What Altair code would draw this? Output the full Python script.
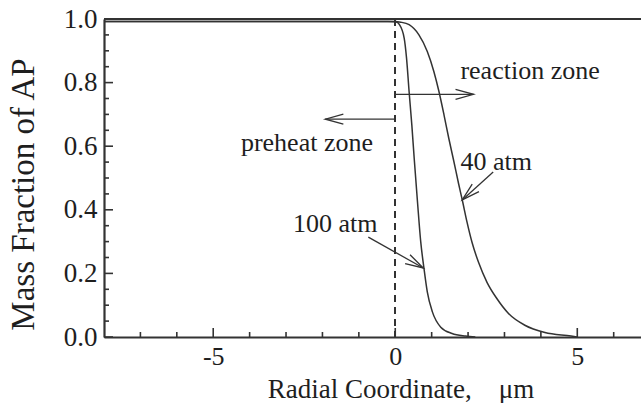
import math
import altair as alt
import pandas as pd

# Axis ranges and tick positions
X_MIN, X_MAX = -8.0, 6.75
Y_MIN, Y_MAX = 0.0, 1.0
W, H = 537, 318
x_major = [-5, 0, 5]
x_minor = [-7, -6, -4, -3, -2, -1, 1, 2, 3, 4, 6]
y_major = [0.0, 0.2, 0.4, 0.6, 0.8, 1.0]
y_minor = [0.05, 0.1, 0.15, 0.25, 0.3, 0.35, 0.45, 0.5, 0.55, 0.65, 0.7, 0.75, 0.85, 0.9, 0.95]

# AP mass-fraction profiles
r_100 = [-8.0, -0.2, 0.0, 0.05, 0.11, 0.245, 0.31, 0.38, 0.455, 0.52, 0.61, 0.70, 0.79, 0.88,
         1.02, 1.25, 1.56, 1.93, 2.2]
y_100 = [0.992, 0.992, 0.991, 0.99, 0.983, 0.94, 0.877, 0.772, 0.667, 0.562, 0.426, 0.299, 0.215,
         0.142, 0.079, 0.031, 0.011, 0.003, 0.0]
r_40 = [-8.0, -0.2, 0.0, 0.15, 0.38, 0.65, 0.88, 1.06, 1.20, 1.34, 1.47, 1.61, 1.74, 1.85, 1.97,
        2.11, 2.29, 2.52, 2.79, 3.11, 3.56, 4.11, 4.83, 5.0]
y_40 = [0.992, 0.992, 0.992, 0.99, 0.982, 0.95, 0.898, 0.835, 0.772, 0.698, 0.625, 0.552, 0.482,
        0.426, 0.362, 0.297, 0.234, 0.172, 0.121, 0.074, 0.037, 0.014, 0.003, 0.0]

# Annotations: text anchors (left / baseline) and arrows (from -> tip)
note_text = ["reaction zone", "preheat zone", "40 atm", "100 atm"]
note_x = [1.79, -4.24, 1.79, -2.81]
note_y = [0.811, 0.585, 0.525, 0.331]
arrow_x0 = [0.0, 0.0, 2.69, -0.74]
arrow_y0 = [0.763, 0.685, 0.519, 0.314]
arrow_x1 = [2.15, -1.92, 1.84, 0.77]
arrow_y1 = [0.763, 0.685, 0.431, 0.217]

FONT = "Liberation Serif"
INK = "#333333"
TEXT = "#1e1e1e"
NB = "\u00a0"
MAJOR_LEN, MINOR_LEN = 9, 5  # tick lengths in pixels

curves = pd.concat([
    pd.DataFrame({"r": r_100, "Y": y_100, "p": "100 atm"}),
    pd.DataFrame({"r": r_40, "Y": y_40, "p": "40 atm"}),
])

# pixels per data unit, used for arrow directions and tick lengths
sx = W / (X_MAX - X_MIN)
sy = H / (Y_MAX - Y_MIN)
arrows = pd.DataFrame({"x0": arrow_x0, "y0": arrow_y0, "x1": arrow_x1, "y1": arrow_y1})
arrows["ang"] = [
    math.degrees(math.atan2(-(b1 - b0) * sy, (a1 - a0) * sx)) % 360
    for a0, b0, a1, b1 in zip(arrow_x0, arrow_y0, arrow_x1, arrow_y1)
]
notes = pd.DataFrame({"t": note_text, "x": note_x, "y": note_y})

# Inward ticks: bottom edge (x ticks) and left edge (y ticks)
xticks = pd.DataFrame({
    "v": x_major + x_minor,
    "lo": Y_MIN,
    "hi": [Y_MIN + MAJOR_LEN / sy] * len(x_major) + [Y_MIN + MINOR_LEN / sy] * len(x_minor),
})
yticks = pd.DataFrame({
    "v": y_major + y_minor,
    "lo": X_MIN,
    "hi": [X_MIN + MAJOR_LEN / sx] * len(y_major) + [X_MIN + MINOR_LEN / sx] * len(y_minor),
})

xs = alt.Scale(domain=[X_MIN, X_MAX], nice=False, zero=False)
ys = alt.Scale(domain=[Y_MIN, Y_MAX], nice=False)

# The shared x / y axes are defined once, on the curve layer
main = alt.Chart(curves).mark_line(
    color=INK, strokeWidth=1.5, interpolate="monotone", clip=True).encode(
    x=alt.X("r:Q", scale=xs, axis=alt.Axis(
        orient="bottom", values=x_major, ticks=False, grid=False,
        domainColor=INK, domainWidth=2.2,
        labelFont=FONT, labelFontSize=26, labelColor=TEXT, labelPadding=6,
        labelExpr="datum.value < 0 ? '-' + abs(datum.value) : '' + datum.value",
        title="Radial Coordinate," + NB * 4 + "\u03bcm", titleFont=FONT, titleFontSize=27,
        titleFontWeight="normal", titleColor=TEXT,
        titleX=296.5, titleY=60, titleBaseline="alphabetic", titleAlign="center")),
    y=alt.Y("Y:Q", scale=ys, axis=alt.Axis(
        orient="left", values=y_major, format=".1f", ticks=False, grid=False,
        domainColor=INK, domainWidth=2.2,
        labelFont=FONT, labelFontSize=27, labelColor=TEXT, labelPadding=7,
        title="Mass Fraction of AP", titleFont=FONT, titleFontSize=33,
        titleFontWeight="normal", titleColor=TEXT,
        titleX=-71, titleY=175, titleBaseline="alphabetic", titleAlign="center")),
    detail="p:N",
)

x_tick_marks = alt.Chart(xticks).mark_rule(color=INK, strokeWidth=1.6).encode(
    x=alt.X("v:Q", scale=xs), y=alt.Y("lo:Q", scale=ys), y2="hi:Q")
y_tick_marks = alt.Chart(yticks).mark_rule(color=INK, strokeWidth=1.6).encode(
    y=alt.Y("v:Q", scale=ys), x=alt.X("lo:Q", scale=xs), x2="hi:Q")

top_frame = alt.Chart(curves).mark_rule(color=INK, strokeWidth=2.2).encode(
    y=alt.YDatum(Y_MAX, scale=ys))
zero_line = alt.Chart(curves).mark_rule(color=INK, strokeWidth=1.3, strokeDash=[7, 5]).encode(
    x=alt.XDatum(0, scale=xs))

shafts = alt.Chart(arrows).mark_rule(color=INK, strokeWidth=1.3).encode(
    x=alt.X("x0:Q", scale=xs), y=alt.Y("y0:Q", scale=ys), x2="x1:Q", y2="y1:Q")
heads = alt.Chart(arrows).mark_point(
    shape="M -1 -0.28 L 0 0 L -1 0.28", size=1296, filled=False, color=INK,
    strokeWidth=1.3, opacity=1).encode(
    x=alt.X("x1:Q", scale=xs), y=alt.Y("y1:Q", scale=ys),
    angle=alt.Angle("ang:Q", scale=None))

labels = alt.Chart(notes).mark_text(
    font=FONT, fontSize=26, color=TEXT, align="left", baseline="alphabetic").encode(
    x=alt.X("x:Q", scale=xs), y=alt.Y("y:Q", scale=ys), text="t:N")

chart = alt.layer(
    main, x_tick_marks, y_tick_marks, top_frame, zero_line, shafts, heads, labels,
).properties(
    width=W, height=H,
    autosize=alt.AutoSizeParams(type="none"),
    padding={"left": 104, "top": 19, "right": 0, "bottom": 66},
    background="white",
).configure_view(stroke=None)

chart.save("out.html", embed_options={"renderer": "svg", "actions": False})
